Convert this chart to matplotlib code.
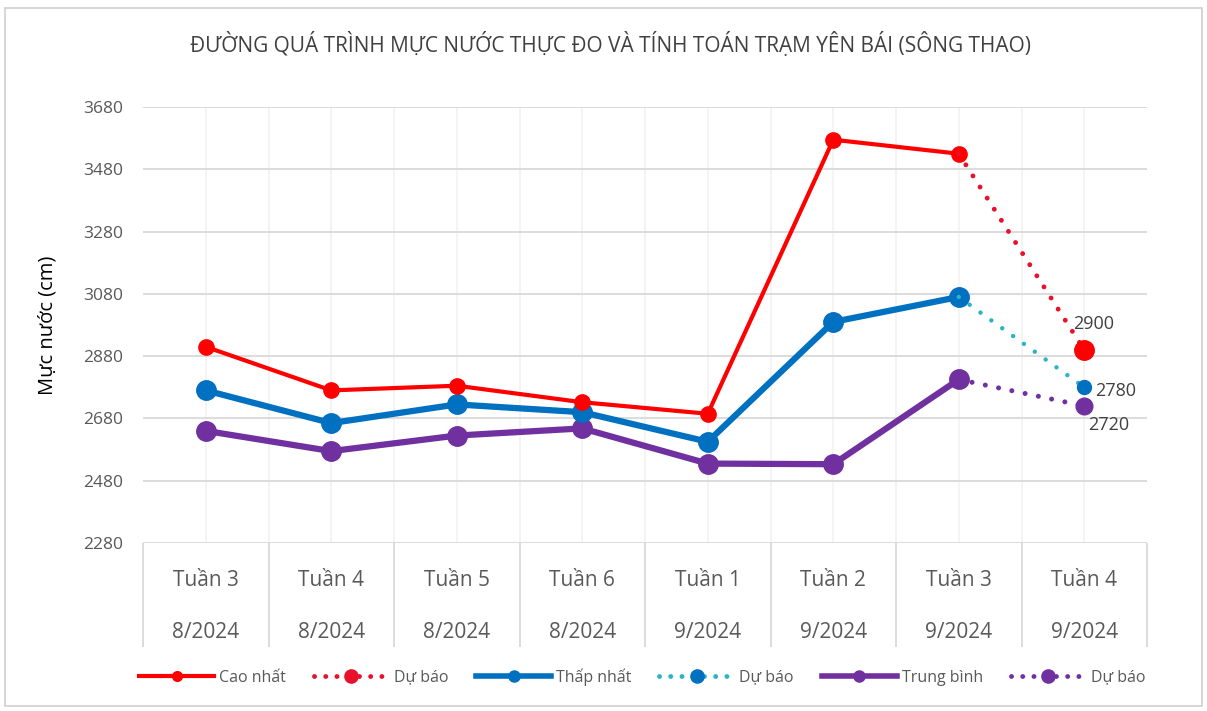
import numpy as np
import matplotlib
matplotlib.use('Agg')
import matplotlib.pyplot as plt
from matplotlib.patches import Rectangle
from matplotlib.lines import Line2D

# data
weeks = ['Tuần 3', 'Tuần 4', 'Tuần 5', 'Tuần 6', 'Tuần 1', 'Tuần 2', 'Tuần 3', 'Tuần 4']
months = ['8/2024', '8/2024', '8/2024', '8/2024', '9/2024', '9/2024', '9/2024', '9/2024']
cao_nhat = [2910, 2770, 2785, 2732, 2695, 3575, 3530]
thap_nhat = [2770, 2665, 2725, 2700, 2605, 2990, 3070]
trung_binh = [2640, 2575, 2625, 2648, 2535, 2533, 2805]
du_bao_cao = 2900
du_bao_thap = 2780
du_bao_tb = 2720
y_ticks = [2280, 2480, 2680, 2880, 3080, 3280, 3480, 3680]

plt.rcParams['font.family'] = ['Open Sans', 'DejaVu Sans']

RED = '#ff0000'
RED_DOT = '#e8102a'
BLUE = '#0070c0'
CYAN = '#29b3c6'
PURPLE = '#7030a0'
TXT = '#595959'
DOTS = (0, (0.01, 2.7))
LEG_DOTS = (0, (0.01, 2.3))

fig = plt.figure(figsize=(12.07, 7.11), dpi=100)
fig.patches.append(Rectangle((0.004, 0.007), 0.992, 0.982, transform=fig.transFigure,
                             fill=False, edgecolor='#d0d0d0', lw=1.2))

ax = fig.add_axes([0.1185, 0.2363, 0.8318, 0.6132])
x = np.arange(len(weeks))
n = len(cao_nhat)

# actual series
ax.plot(x[:n], cao_nhat, color=RED, lw=3, marker='o', ms=11, zorder=5)
ax.plot(x[:n], thap_nhat, color=BLUE, lw=4.5, marker='o', ms=14, zorder=4)
ax.plot(x[:n], trung_binh, color=PURPLE, lw=4.5, marker='o', ms=14, zorder=3)

# forecast continuation
ax.plot(x[n - 1:], [cao_nhat[-1], du_bao_cao], color=RED_DOT, lw=3.5, ls=DOTS,
        dash_capstyle='round', marker='o', ms=14, markevery=[1], mfc=RED, mec=RED, zorder=5)
ax.plot(x[n - 1:], [thap_nhat[-1], du_bao_thap], color=CYAN, lw=3.2, ls=(0, (0.01, 3.0)),
        dash_capstyle='round', marker='o', ms=10, markevery=[1], mfc=BLUE, mec=BLUE, zorder=4)
ax.plot(x[n - 1:], [trung_binh[-1], du_bao_tb], color=PURPLE, lw=3.6, ls=DOTS,
        dash_capstyle='round', marker='o', ms=12, markevery=[1], zorder=3)

ax.annotate(str(du_bao_cao), (x[-1], du_bao_cao), xytext=(-8, 19), textcoords='offset points',
            ha='left', va='center', fontsize=13, color='#404040')
ax.annotate(str(du_bao_thap), (x[-1], du_bao_thap), xytext=(8, -3), textcoords='offset points',
            ha='left', va='center', fontsize=13, color='#404040')
ax.annotate(str(du_bao_tb), (x[-1], du_bao_tb), xytext=(3, -14), textcoords='offset points',
            ha='left', va='center', fontsize=13, color='#404040')

ax.set_xlim(-0.5, len(weeks) - 0.5)
ax.set_ylim(y_ticks[0], y_ticks[-1])
ax.set_yticks(y_ticks)
ax.tick_params(axis='y', length=0, labelsize=12.5, labelcolor=TXT, pad=14)
ax.set_xticks(x)
ax.set_xticks(x[:-1] + 0.5, minor=True)
ax.tick_params(axis='x', which='both', length=0, labelbottom=False)
ax.grid(axis='y', color='#d9d9d9', lw=1.3)
ax.grid(axis='x', which='both', color='#f2f2f2', lw=1.2)
ax.set_axisbelow(True)
for s in ax.spines.values():
    s.set_visible(False)

# two-level category axis
xt = ax.get_xaxis_transform()
ax.vlines(np.arange(len(weeks) + 1) - 0.5, -0.238, 0, transform=xt, color='#d9d9d9', lw=1.3,
          clip_on=False)
for i, (w, m) in enumerate(zip(weeks, months)):
    ax.text(i, -0.085, w, transform=xt, ha='center', va='center', fontsize=15, color=TXT)
    ax.text(i, -0.205, m, transform=xt, ha='center', va='center', fontsize=15, color=TXT)

ax.set_ylabel('Mực nước (cm)', fontsize=14.5, color='black', labelpad=19)
fig.text(0.506, 0.937, 'ĐƯỜNG QUÁ TRÌNH MỰC NƯỚC THỰC ĐO VÀ TÍNH TOÁN TRẠM YÊN BÁI (SÔNG THAO)',
         ha='center', va='center', fontsize=15, color='#404040')

handles = [
    Line2D([], [], color=RED, lw=3, marker='o', ms=7),
    Line2D([], [], color=RED_DOT, lw=3.5, ls=LEG_DOTS, dash_capstyle='round', marker='o', ms=9.5),
    Line2D([], [], color=BLUE, lw=4, marker='o', ms=8),
    Line2D([], [], color=CYAN, lw=3.5, ls=LEG_DOTS, dash_capstyle='round', marker='o', mfc=BLUE, mec=BLUE, ms=9.5),
    Line2D([], [], color=PURPLE, lw=4, marker='o', ms=8),
    Line2D([], [], color=PURPLE, lw=3.5, ls=LEG_DOTS, dash_capstyle='round', marker='o', ms=9.5),
]
labels = ['Cao nhất', 'Dự báo', 'Thấp nhất', 'Dự báo', 'Trung bình', 'Dự báo']
fig.legend(handles, labels, loc='center', bbox_to_anchor=(0.532, 0.048), ncol=6, frameon=False,
           fontsize=11.5, handlelength=4.7, handletextpad=0.3, columnspacing=1.75, numpoints=1,
           labelcolor=TXT)

fig.savefig('out.png', dpi=100)
